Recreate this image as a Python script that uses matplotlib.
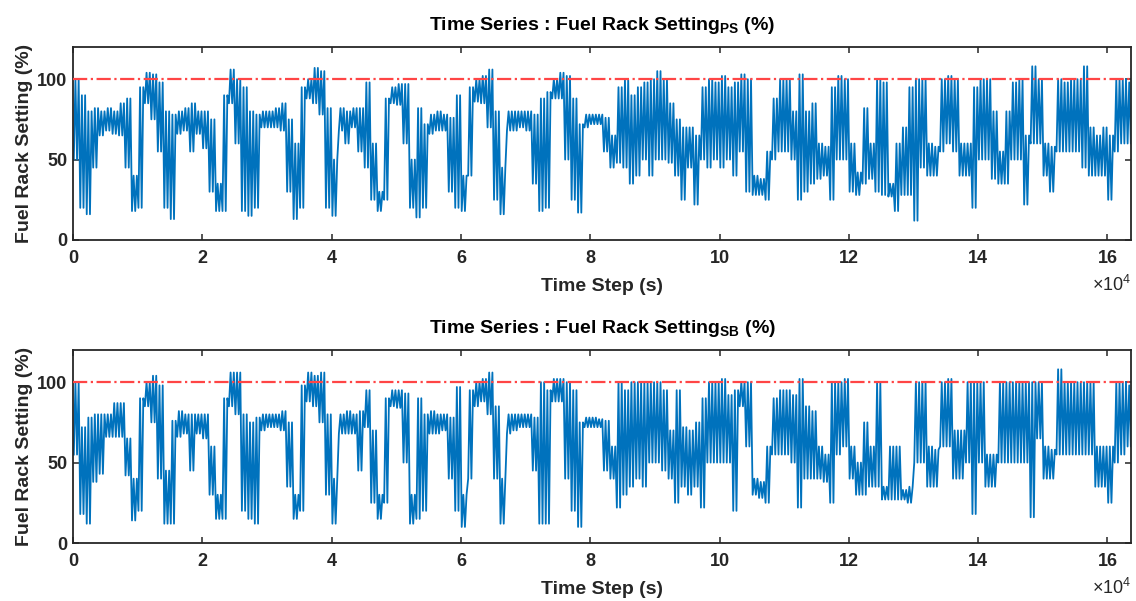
import numpy as np
import matplotlib
matplotlib.use("Agg")
import matplotlib.pyplot as plt

plt.rcParams['font.family'] = ['Liberation Sans', 'DejaVu Sans']
plt.rcParams['mathtext.fontset'] = 'custom'
plt.rcParams['mathtext.rm'] = 'Liberation Sans'
plt.rcParams['mathtext.bf'] = 'Liberation Sans:bold'

# Readings per 1000 s window: lowest and highest value seen in each window
bin_width = 1000

ps_low = [
    50, 20, 16, 45, 65, 68, 66, 65, 45, 18,
    20, 85, 75, 55, 20, 13, 66, 68, 55, 66,
    57, 30, 18, 18, 85, 60, 18, 15, 20, 70,
    70, 70, 68, 30, 13, 20, 88, 85, 78, 20,
    15, 68, 60, 70, 55, 45, 25, 18, 25, 85,
    84, 60, 20, 14, 20, 66, 68, 68, 30, 20,
    18, 40, 86, 85, 70, 25, 16, 68, 68, 70,
    68, 35, 18, 20, 88, 88, 50, 25, 17, 70,
    72, 72, 55, 45, 48, 45, 35, 40, 50, 40,
    50, 50, 48, 40, 25, 45, 22, 50, 45, 50,
    45, 50, 40, 55, 30, 28, 28, 25, 50, 55,
    55, 50, 25, 30, 35, 38, 40, 25, 50, 50,
    30, 28, 35, 38, 30, 28, 27, 18, 28, 28,
    12, 45, 40, 40, 55, 60, 55, 40, 40, 20,
    50, 50, 38, 35, 35, 50, 50, 22, 60, 60,
    40, 30, 55, 55, 55, 55, 45, 40, 40, 40,
    25, 55, 60, 60,
]
ps_high = [
    100, 90, 80, 82, 80, 82, 80, 85, 88, 40,
    95, 104, 103, 98, 80, 78, 80, 82, 85, 80,
    80, 75, 35, 90, 106, 100, 95, 80, 78, 80,
    80, 82, 85, 75, 60, 95, 100, 107, 105, 82,
    50, 82, 80, 82, 82, 98, 60, 30, 88, 95,
    97, 97, 50, 82, 72, 78, 80, 78, 76, 90,
    40, 95, 100, 102, 106, 80, 45, 80, 80, 80,
    80, 78, 88, 92, 100, 104, 102, 88, 72, 78,
    78, 78, 76, 65, 95, 100, 90, 95, 98, 100,
    105, 100, 85, 75, 70, 70, 65, 95, 100, 98,
    102, 95, 98, 103, 100, 40, 38, 55, 88, 100,
    100, 80, 103, 80, 85, 60, 58, 95, 102, 100,
    60, 42, 82, 60, 100, 98, 35, 60, 70, 95,
    100, 100, 60, 58, 100, 102, 100, 60, 60, 95,
    100, 100, 80, 55, 80, 98, 100, 65, 108, 100,
    60, 58, 100, 98, 100, 100, 108, 70, 65, 70,
    65, 100, 100, 98,
]

sb_low = [
    55, 18, 12, 38, 43, 66, 66, 66, 42, 14,
    20, 85, 75, 40, 12, 12, 66, 68, 45, 68,
    65, 30, 15, 15, 85, 80, 20, 15, 12, 70,
    72, 72, 70, 35, 15, 20, 88, 85, 75, 30,
    12, 68, 68, 68, 45, 72, 25, 15, 25, 85,
    84, 50, 12, 15, 20, 68, 68, 70, 40, 20,
    10, 40, 85, 88, 80, 40, 12, 68, 70, 72,
    72, 45, 12, 12, 88, 88, 40, 20, 10, 72,
    72, 72, 45, 40, 22, 30, 35, 40, 35, 50,
    50, 45, 40, 25, 35, 30, 35, 22, 50, 50,
    50, 50, 20, 85, 60, 30, 28, 25, 55, 55,
    55, 50, 22, 40, 40, 40, 38, 25, 55, 60,
    40, 30, 30, 35, 35, 27, 27, 27, 27, 25,
    50, 50, 35, 35, 60, 60, 40, 40, 50, 18,
    50, 35, 35, 50, 50, 50, 50, 50, 16, 65,
    40, 40, 55, 55, 55, 55, 55, 55, 35, 35,
    25, 50, 55, 60,
]
sb_high = [
    100, 72, 78, 80, 80, 80, 87, 87, 65, 40,
    90, 100, 104, 98, 45, 76, 82, 80, 80, 80,
    80, 60, 30, 90, 106, 106, 80, 75, 78, 80,
    80, 80, 82, 75, 30, 98, 106, 104, 106, 80,
    40, 80, 82, 80, 82, 95, 70, 30, 90, 95,
    95, 93, 30, 90, 80, 82, 80, 80, 78, 97,
    30, 95, 100, 102, 106, 85, 40, 80, 80, 80,
    80, 78, 100, 95, 102, 102, 100, 95, 75, 78,
    78, 77, 76, 60, 100, 95, 100, 100, 100, 100,
    100, 95, 70, 95, 72, 70, 75, 90, 100, 100,
    102, 92, 95, 100, 100, 40, 38, 60, 90, 95,
    95, 92, 102, 85, 82, 60, 55, 100, 100, 102,
    60, 50, 75, 60, 100, 35, 60, 60, 33, 35,
    100, 100, 60, 58, 100, 102, 70, 70, 100, 100,
    100, 55, 55, 100, 100, 100, 100, 100, 100, 100,
    60, 58, 108, 100, 100, 100, 100, 100, 60, 60,
    60, 100, 100, 98,
]

limit_value = 100
x_max = 163650
x_ticks = [0, 20000, 40000, 60000, 80000, 100000, 120000, 140000, 160000]
x_tick_labels = ['0', '2', '4', '6', '8', '10', '12', '14', '16']
y_ticks = [0, 50, 100]
titles = [r'Time Series : Fuel Rack Setting$_{\mathbf{PS}}$ (%)',
          r'Time Series : Fuel Rack Setting$_{\mathbf{SB}}$ (%)']


def oscillate(low, high):
    """Trace each window's range as the fast swings between its low and high readings."""
    low = np.asarray(low, float)
    high = np.asarray(high, float)
    n = len(low)
    offsets = np.array([0.125, 0.375, 0.625, 0.875]) * bin_width
    t = (np.arange(n)[:, None] * bin_width + offsets[None, :]).ravel()
    v = np.stack([low, high, low, high], axis=1).ravel()
    return t, v


W, H = 1136, 601
fig = plt.figure(figsize=(W / 100, H / 100), dpi=100)
ax_rects = [
    [73 / W, 1 - 240 / H, 1058 / W, 193 / H],
    [73 / W, 1 - 543 / H, 1058 / W, 193 / H],
]
text_col = '#262626'
for rect, (lo, hi), title in zip(ax_rects, [(ps_low, ps_high), (sb_low, sb_high)], titles):
    ax = fig.add_axes(rect)
    t, v = oscillate(lo, hi)
    ax.plot(t, v, color='#0072BD', lw=1.3, zorder=2)
    ax.axhline(limit_value, color='#FF4545', lw=1.6, ls='-.', zorder=3)
    ax.set_xlim(0, x_max)
    ax.set_ylim(0, 120)
    ax.set_xticks(x_ticks)
    ax.set_xticklabels(x_tick_labels)
    ax.set_yticks(y_ticks)
    ax.tick_params(axis='x', pad=7)
    ax.tick_params(axis='y', pad=4)
    ax.tick_params(direction='in', top=True, right=True, length=4.5, width=1.1,
                   labelsize=13, colors=text_col)
    for lab in ax.get_xticklabels() + ax.get_yticklabels():
        lab.set_fontweight('bold')
    for sp in ax.spines.values():
        sp.set_linewidth(1.3)
        sp.set_color(text_col)
    ax.set_ylabel('Fuel Rack Setting (%)', fontsize=14, fontweight='bold',
                  color=text_col, labelpad=3)
    ax.set_xlabel('Time Step (s)', fontsize=14, fontweight='bold',
                  color=text_col, labelpad=8)
    ax.set_title(title, fontsize=14, fontweight='bold', color='black', pad=12)
    ax.text(1.0, -0.235, r'$\times\mathregular{10^{4}}$', transform=ax.transAxes,
            ha='right', va='center', fontsize=13, color=text_col)

fig.savefig('out.png', dpi=100)
